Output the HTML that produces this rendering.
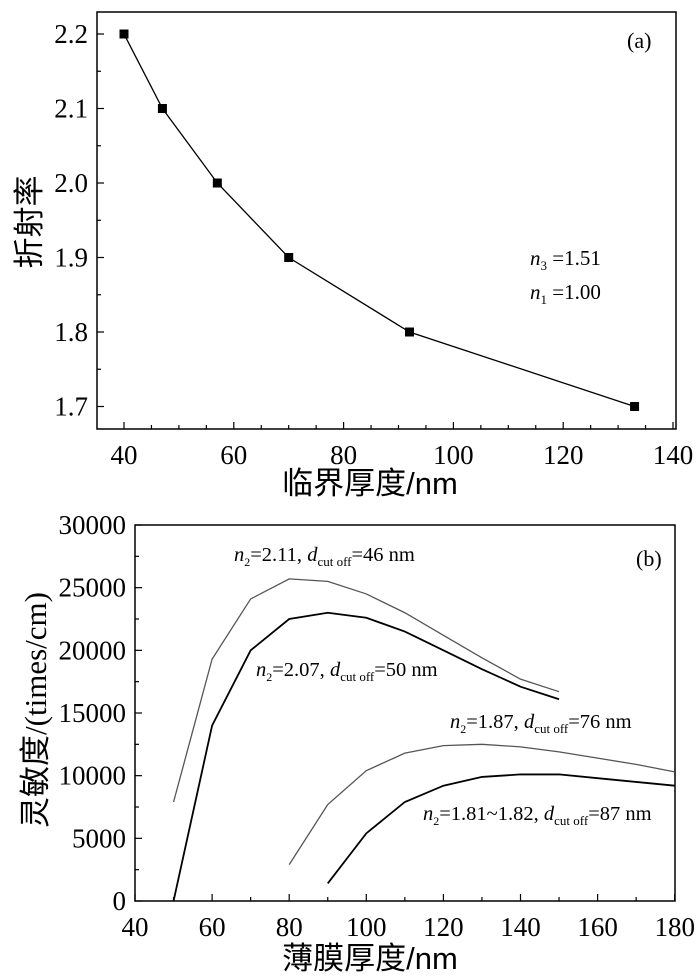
<!DOCTYPE html>
<html><head><meta charset="utf-8"><style>
body{margin:0;background:#fff}
svg{display:block}
text{font-family:"Liberation Serif","Noto Serif CJK SC",serif;fill:#000}
</style></head><body>
<svg id="svg" width="700" height="980" viewBox="0 0 700 980"></svg>
<script>
// ---- chart (a) data ----
const aThickness=[40,47,57,70,92,133];
const aIndex=[2.2,2.1,2.0,1.9,1.8,1.7];
const aXTicks=[40,60,80,100,120,140];
const aYTicks=[1.7,1.8,1.9,2.0,2.1,2.2];
// ---- chart (b) data ----
const bXTicks=[40,60,80,100,120,140,160,180];
const bYTicks=[0,5000,10000,15000,20000,25000,30000];
const s211x=[50,60,70,80,90,100,110,120,130,140,150];
const s211y=[7900,19300,24100,25700,25500,24500,23000,21200,19400,17700,16700];
const s207x=[50,60,70,80,90,100,110,120,130,140,150];
const s207y=[0,14000,20000,22500,23000,22600,21500,20000,18500,17100,16100];
const s187x=[80,90,100,110,120,130,140,150,160,170,180];
const s187y=[2900,7700,10400,11800,12400,12500,12300,11900,11400,10900,10300];
const s181x=[90,100,110,120,130,140,150,160,170,180];
const s181y=[1400,5400,7900,9200,9900,10100,10100,9800,9500,9200];

const NS='http://www.w3.org/2000/svg';
const svg=document.getElementById('svg');
function mk(tag,attrs,parent){const e=document.createElementNS(NS,tag);for(const k in attrs)e.setAttribute(k,attrs[k]);(parent||svg).appendChild(e);return e;}

const aL=97,aR=676,aT=12,aB=429;
const ax=v=>124+(v-40)*5.49;
const ay=v=>34+(2.2-v)*745;
const bL=135,bR=675,bT=525,bB=901;
const bx=v=>135+(v-40)*3.855;
const by=v=>901-v/30000*376;

function frame(L,T,R,B,name){const r=mk('rect',{x:L,y:T,width:R-L,height:B-T,fill:'none',stroke:'#000','stroke-width':1.5});

}
frame(aL,aT,aR,aB,'plot-frame-a');
frame(bL,bT,bR,bB,'plot-frame-b');

for(let v=40;v<=140;v+=5){const maj=v%20===0;mk('line',{x1:ax(v),x2:ax(v),y1:aB,y2:aB-(maj?7:4),stroke:'#000','stroke-width':1.2});}
for(let i=0;i<=11;i++){const v=1.7+i*0.05;const maj=i%2===0;if(ay(v)<aT)continue;mk('line',{x1:aL,x2:aL+(maj?7:4),y1:ay(v),y2:ay(v),stroke:'#000','stroke-width':1.2});}
aXTicks.forEach(v=>{const t=mk('text',{x:ax(v),y:464,'text-anchor':'middle','font-size':27});t.textContent=v;

});
aYTicks.forEach(v=>{const t=mk('text',{x:88,y:ay(v)+9,'text-anchor':'end','font-size':27});t.textContent=v.toFixed(1);

});
const pa=mk('polyline',{points:aThickness.map((v,i)=>ax(v)+','+ay(aIndex[i])).join(' '),fill:'none',stroke:'#000','stroke-width':1.3});


aThickness.forEach((v,i)=>{const r=mk('rect',{x:ax(v)-4.5,y:ay(aIndex[i])-4.5,width:9,height:9,fill:'#000'});

});

for(let v=40;v<=180;v+=10){const maj=v%20===0;mk('line',{x1:bx(v),x2:bx(v),y1:bB,y2:bB-(maj?7:4),stroke:'#000','stroke-width':1.2});}
for(let v=0;v<=30000;v+=2500){const maj=v%5000===0;mk('line',{x1:bL,x2:bL+(maj?7:4),y1:by(v),y2:by(v),stroke:'#000','stroke-width':1.2});}
bXTicks.forEach(v=>{const t=mk('text',{x:bx(v),y:936,'text-anchor':'middle','font-size':27});t.textContent=v;

});
bYTicks.forEach(v=>{const t=mk('text',{x:126,y:by(v)+9,'text-anchor':'end','font-size':27});t.textContent=v;

});
function series(xs,ys,col,name){const p=mk('polyline',{points:xs.map((v,i)=>bx(v)+','+by(ys[i])).join(' '),fill:'none',stroke:col,'stroke-width':col==='#000'?1.8:1.3});

}
series(s211x,s211y,'#555','series-n2-2-11');
series(s207x,s207y,'#000','series-n2-2-07');
series(s187x,s187y,'#555','series-n2-1-87');
series(s181x,s181y,'#000','series-n2-1-81');
</script>
<svg width="700" height="980" style="position:absolute;left:0;top:0">
<text x="627" y="48" font-size="22">(a)</text>
<text x="530" y="265" font-size="21"><tspan font-style="italic">n</tspan><tspan font-size="13" dy="5">3</tspan><tspan dy="-5"> =1.51</tspan></text>
<text x="530" y="299" font-size="21"><tspan font-style="italic">n</tspan><tspan font-size="13" dy="5">1</tspan><tspan dy="-5"> =1.00</tspan></text>
<text x="370" y="494" font-size="31" text-anchor="middle" style="font-family:'Liberation Sans','Noto Sans CJK SC',sans-serif">临界厚度/nm</text>
<text transform="translate(40,222) rotate(-90)" font-size="31" text-anchor="middle" style="font-family:'Noto Sans CJK SC',sans-serif">折射率</text>
<text x="636" y="566" font-size="22">(b)</text>
<text x="234" y="561" font-size="20.5"><tspan font-style="italic">n</tspan><tspan font-size="12" dy="5">2</tspan><tspan dy="-5">=2.11, </tspan><tspan font-style="italic">d</tspan><tspan font-size="13" dy="5">cut off</tspan><tspan dy="-5">=46 nm</tspan></text>
<text x="256" y="676" font-size="20.5"><tspan font-style="italic">n</tspan><tspan font-size="12" dy="5">2</tspan><tspan dy="-5">=2.07, </tspan><tspan font-style="italic">d</tspan><tspan font-size="13" dy="5">cut off</tspan><tspan dy="-5">=50 nm</tspan></text>
<text x="450" y="728" font-size="20.5"><tspan font-style="italic">n</tspan><tspan font-size="12" dy="5">2</tspan><tspan dy="-5">=1.87, </tspan><tspan font-style="italic">d</tspan><tspan font-size="13" dy="5">cut off</tspan><tspan dy="-5">=76 nm</tspan></text>
<text x="423" y="820" font-size="20.5"><tspan font-style="italic">n</tspan><tspan font-size="12" dy="5">2</tspan><tspan dy="-5">=1.81~1.82, </tspan><tspan font-style="italic">d</tspan><tspan font-size="13" dy="5">cut off</tspan><tspan dy="-5">=87 nm</tspan></text>
<text x="370" y="969" font-size="31" text-anchor="middle" style="font-family:'Liberation Sans','Noto Sans CJK SC',sans-serif">薄膜厚度/nm</text>
<text transform="translate(46,710) rotate(-90)" font-size="31" text-anchor="middle" style="font-family:'Liberation Serif','Noto Sans CJK SC',serif">灵敏度/(times/cm)</text>
</svg>
</body></html>
